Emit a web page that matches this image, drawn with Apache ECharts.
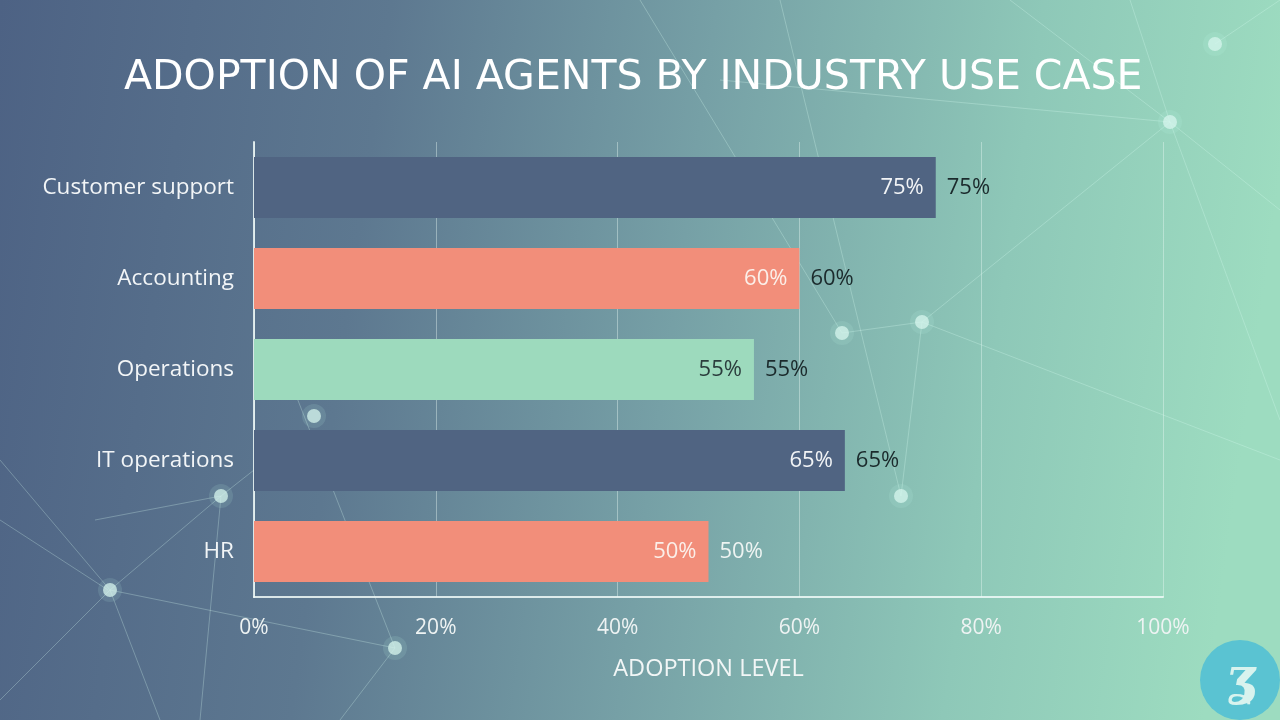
<!DOCTYPE html>
<html>
<head>
<meta charset="utf-8">
<script src="https://cdn.jsdelivr.net/npm/echarts@6/dist/echarts.min.js"></script>
<style>html,body{margin:0;padding:0;}#c{width:1280px;height:720px;}</style>
</head>
<body>
<div id="c"></div>
<script>
const categories = ['Customer support', 'Accounting', 'Operations', 'IT operations', 'HR'];
const adoption = [75, 60, 55, 65, 50];
const barColors = ['#506482', '#f28e7a', '#9ddabd', '#506482', '#f28e7a'];
const insideLabelColors = ['#f2f4f6', '#fbefe9', '#2b3d3d', '#f2f4f6', '#fbefe9'];
const outsideLabelColors = ['#1b2a2c', '#1b2a2c', '#1b2a2c', '#1b2a2c', '#eef4f2'];
const xTicks = [0, 20, 40, 60, 80, 100];

const FONT = 'Open Sans';
const chart = echarts.init(document.getElementById('c'));

// decorative network (background only)
const nodes = [[1215,44],[1170,122],[922,322],[842,333],[901,496],[314,416],[221,496],[395,648],[110,590]];
const links = [
  [[1170,122],[922,322]],[[922,322],[842,333]],[[922,322],[901,496]],[[1170,122],[1280,210]],
  [[1170,122],[1130,0]],[[1215,44],[1280,0]],[[720,80],[1170,122]],[[780,0],[901,496]],
  [[1170,122],[1280,420]],[[922,322],[1280,460]],[[842,333],[640,0]],[[1010,0],[1170,122]],
  [[110,590],[221,496]],[[110,590],[0,460]],[[110,590],[0,700]],[[110,590],[395,648]],
  [[110,590],[160,720]],[[221,496],[254,470]],[[221,496],[200,720]],[[395,648],[340,720]],
  [[290,380],[395,648]],[[0,520],[108,590]],[[221,496],[95,520]]
];
const deco = [];
links.forEach(l => deco.push({type:'line', silent:true, z:-10,
  shape:{x1:l[0][0],y1:l[0][1],x2:l[1][0],y2:l[1][1]},
  style:{stroke:'rgba(220,255,245,0.28)', lineWidth:1}}));
nodes.forEach(n => {
  deco.push({type:'circle', silent:true, z:-10, shape:{cx:n[0],cy:n[1],r:12},
    style:{fill:'rgba(200,255,240,0.12)'}});
  deco.push({type:'circle', silent:true, z:-10, shape:{cx:n[0],cy:n[1],r:7},
    style:{fill:'rgba(215,245,238,0.75)'}});
});
// logo
deco.push({type:'circle', silent:true, z:10, shape:{cx:1240,cy:680,r:40}, style:{fill:'#5ac3d2'}});
deco.push({type:'text', silent:true, z:11, x:1240, y:680,
  style:{text:'\u0293', fill:'#d8f3ee', font:'italic bold 52px "DejaVu Serif"', align:'center', verticalAlign:'middle'}});

chart.setOption({
  backgroundColor: new echarts.graphic.LinearGradient(0, 0, 1, 0.25, [
    {offset:0, color:'#4d6284'},
    {offset:0.3, color:'#5d7890'},
    {offset:0.55, color:'#76a0a6'},
    {offset:0.8, color:'#8ec8b8'},
    {offset:1, color:'#9ddcc0'}
  ]),
  animation: false,
  title: {
    text: 'ADOPTION OF AI AGENTS BY INDUSTRY USE CASE',
    left: 119, top: 53,
    textStyle: {color:'#ffffff', fontFamily: 'DejaVu Sans', fontWeight: 'normal', fontSize: 41}
  },
  graphic: deco,
  grid: {left: 254, right: 117, top: 142, bottom: 123, containLabel: false},
  xAxis: {
    type: 'value', min: 0, max: 100, interval: 20,
    name: 'ADOPTION LEVEL', nameLocation: 'middle', nameGap: 60,
    nameTextStyle: {color:'#f2f6f6', fontFamily: FONT, fontSize: 23.5},
    axisLine: {show: true, lineStyle: {color:'rgba(240,250,248,0.85)', width: 2}},
    axisTick: {show: false},
    axisLabel: {color:'#eef3f3', fontFamily: FONT, fontSize: 21, margin: 21,
      formatter: v => xTicks.includes(v) ? v + '%' : ''},
    splitLine: {show: true, lineStyle: {color:'rgba(235,250,245,0.4)', width: 1}}
  },
  yAxis: {
    type: 'category', data: categories, inverse: true,
    axisLine: {show: true, lineStyle: {color:'rgba(240,250,248,0.85)', width: 2}},
    axisTick: {show: false},
    axisLabel: {color:'#f2f5f7', fontFamily: FONT, fontSize: 22.5, margin: 20}
  },
  series: [
    {
      type: 'bar', barCategoryGap: '33%',
      data: adoption.map((v, i) => ({
        value: v,
        itemStyle: {color: barColors[i]},
        label: {color: insideLabelColors[i]}
      })),
      label: {show: true, position: 'insideRight', distance: 12, fontFamily: FONT, fontSize: 22,
        formatter: p => p.value + '%'}
    },
    {
      type: 'bar', barGap: '-100%', barCategoryGap: '33%',
      data: adoption.map((v, i) => ({
        value: v,
        itemStyle: {color: 'rgba(0,0,0,0)'},
        label: {color: outsideLabelColors[i]}
      })),
      label: {show: true, position: 'right', distance: 11, fontFamily: FONT, fontSize: 22,
        formatter: p => p.value + '%'}
    }
  ]
});
</script>
</body>
</html>
